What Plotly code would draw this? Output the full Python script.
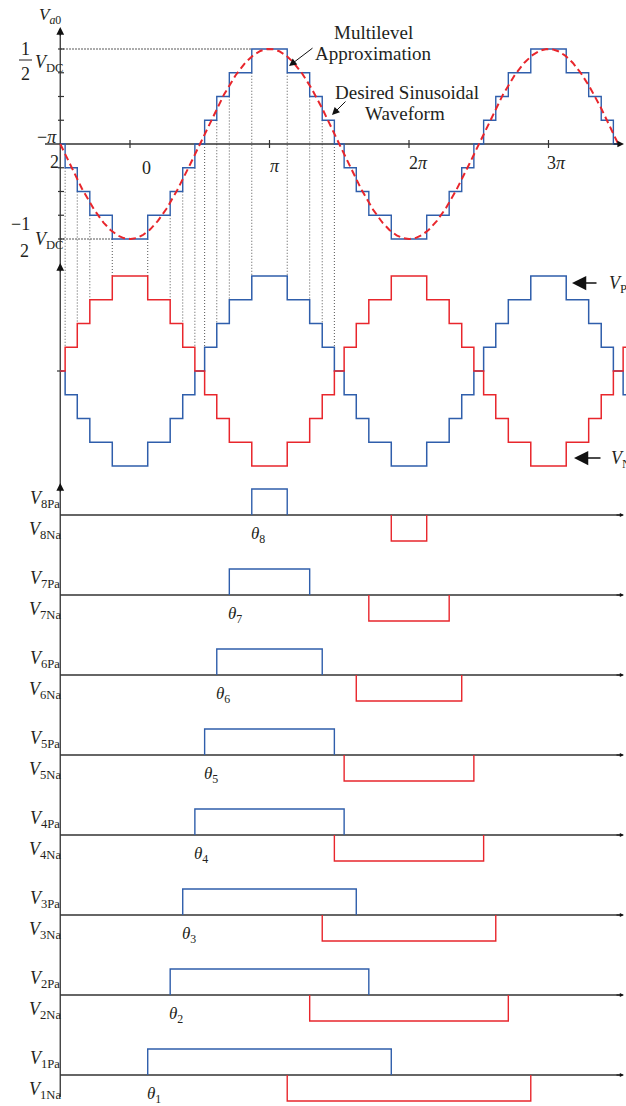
import numpy as np
import plotly.graph_objects as go

# ---------------- data (angles in units of pi) ----------------
switch_angles_pi = [0.127, 0.288, 0.378, 0.465, 0.535, 0.622, 0.712, 0.873]   # theta_1 ... theta_8
pulse_names = ["1", "2", "3", "4", "5", "6", "7", "8"]
peak_level = 4                               # +-1/2 VDC reached in 4 steps
level_ticks = [-4, -3, -2, -1, 1, 2, 3, 4]
x_ticks_pi = [0, 1, 2, 3]
x_tick_text = ["0", "<i>π</i>", "2<i>π</i>", "3<i>π</i>"]
theta_start, theta_end = -0.5, 3.5

# ---------------- layout helpers (window pixel -> data) ----------------
W, H = 626, 1106
PX0, PXPI = 130.0, 139.5
PY0, PYLVL = 144.0, 23.75


def X(px):
    return (px - PX0) / PXPI


def Y(py):
    return (PY0 - py) / PYLVL


MID = Y(371)
ROW = {k: Y(515 + 80 * (8 - k)) for k in range(1, 9)}
PH = 26 / PYLVL

SERIF = "Liberation Serif, Times New Roman, serif"
TXT = "#231f20"
BLUE = "#2f5eab"
RED = "#e8262c"
AXC = "#333333"

# ---------------- switching pulses ----------------
pa = [(t, 2 - t) for t in switch_angles_pi]
na = [(1 + t, 3 - t) for t in switch_angles_pi]
PA = [(a + s, b + s) for a, b in pa for s in (-4, -2, 0, 2, 4)]
NA = [(a + s, b + s) for a, b in na for s in (-4, -2, 0, 2, 4)]


def n_on(ints, x):
    return sum(1 for a, b in ints if a < x < b)


def va0(x):
    return (n_on(PA, x) - n_on(NA, x)) / 2


edges = sorted({round(e, 9) for a, b in PA + NA for e in (a, b) if -1 < e < 4})


def staircase(lo, hi):
    pts = [lo] + [e for e in edges if lo < e < hi] + [hi]
    xs, ys = [], []
    for i in range(len(pts) - 1):
        xs.append(pts[i])
        ys.append(va0((pts[i] + pts[i + 1]) / 2))
    xs.append(hi)
    ys.append(ys[-1])
    return xs, ys


fig = go.Figure()


def add_line(xs, ys, color, width, dash=None, shape="linear"):
    fig.add_trace(go.Scatter(x=xs, y=ys, mode="lines",
                             line=dict(color=color, width=width, dash=dash, shape=shape),
                             hoverinfo="skip", showlegend=False))


# dotted guide lines from top staircase edges to middle waveforms
gx, gy = [], []
for e in edges:
    if theta_start < e < 1.5:
        a, b = va0(e - 1e-6), va0(e + 1e-6)
        gx += [e, e, None]
        gy += [min(a, b), MID + max(abs(a), abs(b)), None]
add_line(gx, gy, "#555555", 1, dash="1px,2px")

# +-1/2 VDC dotted reference lines
sx, sy = staircase(theta_start, theta_end)
x_top = next(x for x, y in zip(sx, sy) if y == peak_level)
x_bot = next(x for x, y in zip(sx, sy) if y == -peak_level)
add_line([theta_start, x_top, None, theta_start, x_bot],
         [peak_level, peak_level, None, -peak_level, -peak_level], "#222222", 1.2, dash="1.5px,1.5px")

# axes
axx = [theta_start, theta_start, None, X(45), X(618), None]
axy = [Y(1097), Y(30), None, 0, 0, None]
for k in range(1, 9):
    axx += [theta_start, X(620), None]
    axy += [ROW[k], ROW[k], None]
add_line(axx, axy, AXC, 1.3)

# ticks
tx, ty = [], []
for lv in level_ticks:
    tx += [X(58), X(64), None]
    ty += [lv, lv, None]
for t in x_ticks_pi:
    tx += [t, t, None]
    ty += [Y(140), Y(148), None]
tx += [X(57), X(62), None]
ty += [MID, MID, None]
add_line(tx, ty, AXC, 1.2)

# top multilevel staircase
add_line(sx, sy, BLUE, 1.4, shape="hv")

# desired sinusoid
th = np.linspace(theta_start, theta_end, 801)
add_line(th, -peak_level * np.cos(np.pi * th), RED, 2, dash="7px,4px")

# middle: VPa (blue) and VNa (red)
mx, my = staircase(theta_start, X(W))
add_line(mx, [MID + v for v in my], BLUE, 1.5, shape="hv")
add_line(mx, [MID - v for v in my], RED, 1.5, shape="hv")

# pulse rows
for k, t in zip(range(1, 9), switch_angles_pi):
    r = ROW[k]
    a, b = pa[k - 1]
    add_line([a, a, b, b], [r, r + PH, r + PH, r], BLUE, 1.4)
    a, b = na[k - 1]
    add_line([a, a, b, b], [r, r - PH, r - PH, r], RED, 1.4)

# ---------------- annotations ----------------
ann = []


def txt(px, py, text, size=17, xanchor="center", yanchor="middle"):
    ann.append(dict(x=X(px), y=Y(py), text=text, showarrow=False, xanchor=xanchor, yanchor=yanchor,
                    font=dict(family=SERIF, size=size, color=TXT)))


def arrow(hx, hy, tx_, ty_, size=1.2, width=1.2, head=2, color="#111111"):
    ann.append(dict(x=X(hx), y=Y(hy), ax=X(tx_), ay=Y(ty_), axref="x", ayref="y", text="",
                    showarrow=True, arrowhead=head, arrowsize=size, arrowwidth=width, arrowcolor=color))


# axis arrowheads
axis_px = theta_start * PXPI + PX0
for tip in (27, 263, 483):
    arrow(axis_px, tip, axis_px, tip + 10, size=1.3, width=1.2)
arrow(624, 144, 612, 144, size=1.1, width=1.2)
for k in range(1, 9):
    arrow(624, 515 + 80 * (8 - k), 615, 515 + 80 * (8 - k), size=0.7, width=1.2)

# axis labels
txt(50, 16, "<i>V</i><sub><i>a</i>0</sub>", size=17)
txt(25, 49, "1", size=18)
txt(25, 74, "2", size=18)
add_line([X(19), X(32)], [Y(60), Y(60)], TXT, 1)
txt(33, 63, "<i>V</i><sub>DC</sub>", size=18, xanchor="left")
txt(20, 224, "−1", size=18)
txt(24, 251, "2", size=18)
txt(33, 240, "<i>V</i><sub>DC</sub>", size=18, xanchor="left")
txt(47, 137, "−<i>π</i>", size=18)
txt(54, 162, "2", size=18)
for t, lab, px_off, py in zip(x_ticks_pi, x_tick_text, [16, 5, 9, 8], [168, 166, 163, 163]):
    ann.append(dict(x=t, y=Y(py), xshift=px_off, text=lab, showarrow=False,
                    font=dict(family=SERIF, size=18, color=TXT)))

# callouts
txt(373, 32, "Multilevel", size=19)
txt(373, 53, "Approximation", size=19)
arrow(289, 66, 314, 47, size=1.5, width=1.0)
txt(407, 92, "Desired Sinusoidal", size=19)
txt(405, 113, "Waveform", size=19)
arrow(332, 115, 347, 100, size=1.5, width=1.0)
arrow(572, 283, 598, 283, size=1.9, width=1.5)
txt(607, 284, "<i>V</i><sub>Pa</sub>", size=18, xanchor="left")
arrow(574, 458, 602, 458, size=1.9, width=1.5)
txt(609, 459, "<i>V</i><sub>Na</sub>", size=18, xanchor="left")

# pulse labels
for k, t, name in zip(range(1, 9), switch_angles_pi, pulse_names):
    base = 515 + 80 * (8 - k)
    txt(62, base - 16, f"<i>V</i><sub>{name}Pa</sub>", size=18, xanchor="right")
    txt(63, base + 15, f"<i>V</i><sub>{name}Na</sub>", size=18, xanchor="right")
    ann.append(dict(x=t, y=Y(base + 20), xshift=-3, text=f"<i>θ</i><sub>{name}</sub>", showarrow=False,
                    xanchor="left", font=dict(family=SERIF, size=17, color=TXT)))

fig.update_layout(
    width=W, height=H, margin=dict(l=0, r=0, t=0, b=0),
    paper_bgcolor="white", plot_bgcolor="white", showlegend=False,
    xaxis=dict(range=[X(0), X(W)], visible=False, fixedrange=True),
    yaxis=dict(range=[Y(H), Y(0)], visible=False, fixedrange=True),
    annotations=ann,
)

# let the figure fill the page exactly (no default body margin, no scrollbars)
fig.write_html("out.html", config={"displayModeBar": False, "staticPlot": True},
               post_script="document.body.style.margin='0';document.body.style.overflow='hidden';")
